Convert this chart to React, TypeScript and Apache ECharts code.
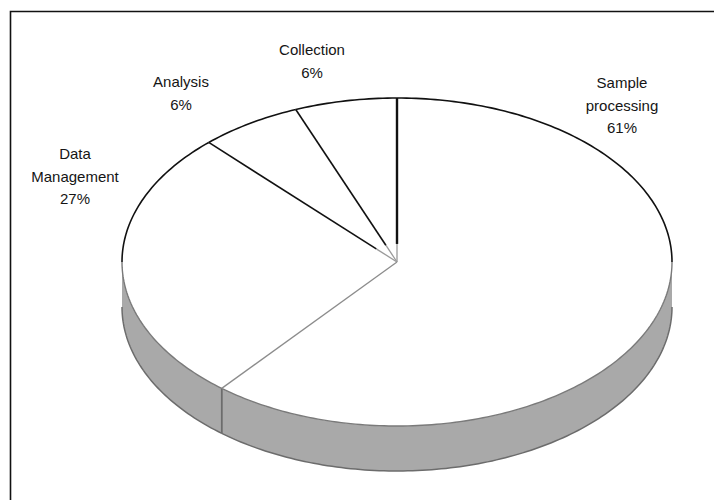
import React, { useEffect, useRef } from "react";
import * as echarts from "echarts";

// ---- data ----
const categories = ["Sample processing", "Data Management", "Analysis", "Collection"];
const labelNames = ["Sample\nprocessing", "Data\nManagement", "Analysis", "Collection"];
const values = [61, 27, 6, 6];

// ---- layout ----
const CX = 397;
const CY = 262;
const RX = 275;
const RY = 164;
const DEPTH = 45;
const LABEL_POS = [
  [622, 105],
  [75, 176],
  [181, 93],
  [312, 61],
];

const total = values.reduce((a, b) => a + b, 0);
const cumulative = values.map((_, i) => values.slice(0, i).reduce((a, b) => a + b, 0));

const HALF = Math.PI / 2;
const THREE_HALF = (3 * Math.PI) / 2;

function pt(t: number, dy: number): number[] {
  return [CX + RX * Math.sin(t), CY - RY * Math.cos(t) + dy];
}

function arcPts(t0: number, t1: number, dy: number): number[][] {
  const n = Math.max(2, Math.ceil(Math.abs(t1 - t0) / (Math.PI / 180)) + 1);
  const out: number[][] = [];
  for (let k = 0; k < n; k++) {
    const t = t0 + ((t1 - t0) * k) / (n - 1);
    out.push(pt(t, dy));
  }
  return out;
}

function intersect(a0: number, a1: number, r0: number, r1: number): number[] | null {
  const s = Math.max(a0, r0);
  const e = Math.min(a1, r1);
  return e > s + 1e-6 ? [s, e] : null;
}

function renderItem(params: any, api: any) {
  const i = params.dataIndex;
  const v = api.value(0);
  const start = api.value(1);
  const a0 = (start / total) * Math.PI * 2;
  const a1 = ((start + v) / total) * Math.PI * 2;
  const children: any[] = [];

  // top face fill
  children.push({
    type: "polygon",
    z2: 1,
    shape: { points: [[CX, CY], ...arcPts(a0, a1, 0)] },
    style: { fill: "#ffffff", stroke: null },
  });

  // side face (front half only)
  const side = intersect(a0, a1, HALF, THREE_HALF);
  if (side) {
    const top = arcPts(side[0], side[1], 0);
    const bot = arcPts(side[0], side[1], DEPTH);
    children.push({
      type: "polygon",
      z2: 0,
      shape: { points: top.concat(bot.slice().reverse()) },
      style: { fill: "#a9a9a9", stroke: null },
    });
    children.push({
      type: "polyline",
      z2: 2,
      shape: { points: bot },
      style: { fill: null, stroke: "#6c6c6c", lineWidth: 1.5 },
    });
    [a0, a1].forEach((t) => {
      if (t > HALF + 1e-6 && t < THREE_HALF - 1e-6) {
        const p = pt(t, 0);
        children.push({
          type: "line",
          z2: 2,
          shape: { x1: p[0], y1: p[1], x2: p[0], y2: p[1] + DEPTH },
          style: { stroke: "#6c6c6c", lineWidth: 1.5 },
        });
      }
    });
  }

  // top outline: black in back half, grey in front half
  const backRanges = [intersect(a0, a1, 0, HALF), intersect(a0, a1, THREE_HALF, Math.PI * 2)];
  backRanges.forEach((r) => {
    if (r) {
      children.push({
        type: "polyline",
        z2: 4,
        shape: { points: arcPts(r[0], r[1], 0) },
        style: { fill: null, stroke: "#111111", lineWidth: 1.6 },
      });
    }
  });
  const front = intersect(a0, a1, HALF, THREE_HALF);
  if (front) {
    children.push({
      type: "polyline",
      z2: 3,
      shape: { points: arcPts(front[0], front[1], 0) },
      style: { fill: null, stroke: "#7a7a7a", lineWidth: 1.4 },
    });
  }

  // radial edge at slice start
  const p = pt(a0, 0);
  if (Math.cos(a0) > 0) {
    const f = 0.11;
    const m = [CX + (p[0] - CX) * f, CY + (p[1] - CY) * f];
    children.push({
      type: "line",
      z2: 3,
      shape: { x1: CX, y1: CY, x2: m[0], y2: m[1] },
      style: { stroke: "#9a9a9a", lineWidth: 1.3 },
    });
    children.push({
      type: "line",
      z2: 4,
      shape: { x1: m[0], y1: m[1], x2: p[0], y2: p[1] },
      style: { stroke: "#111111", lineWidth: Math.cos(a0) > 0.99 ? 2.4 : 1.6 },
    });
  } else {
    children.push({
      type: "line",
      z2: 3,
      shape: { x1: CX, y1: CY, x2: p[0], y2: p[1] },
      style: { stroke: "#8c8c8c", lineWidth: 1.3 },
    });
  }

  // label
  const lp = LABEL_POS[i];
  children.push({
    type: "text",
    z2: 5,
    style: {
      text: labelNames[i] + "\n" + v + "%",
      x: lp[0],
      y: lp[1],
      align: "center",
      verticalAlign: "middle",
      fill: "#151515",
      font: "15px 'Liberation Sans', Arial, sans-serif",
      lineHeight: 22.5,
    },
  });

  return { type: "group", children };
}

export default function App() {
  const ref = useRef<HTMLDivElement>(null);
  useEffect(() => {
    if (!ref.current) return;
    const chart = echarts.init(ref.current, null, { renderer: "svg" });
    chart.setOption({
      animation: false,
      backgroundColor: "#ffffff",
      graphic: [
        {
          type: "rect",
          silent: true,
          z: -1,
          shape: { x: 10.5, y: 11.5, width: 720, height: 500 },
          style: { fill: "none", stroke: "#111111", lineWidth: 1.6 },
        },
      ],
      series: [
        {
          type: "custom",
          name: "Share",
          coordinateSystem: "none",
          silent: true,
          renderItem,
          data: values.map((v, i) => ({ name: categories[i], value: [v, cumulative[i]] })),
        },
      ],
    });
    return () => chart.dispose();
  }, []);
  return (
    <div
      ref={ref}
      style={{ position: "fixed", left: 0, top: 0, width: 714, height: 500, background: "#fff" }}
    />
  );
}
